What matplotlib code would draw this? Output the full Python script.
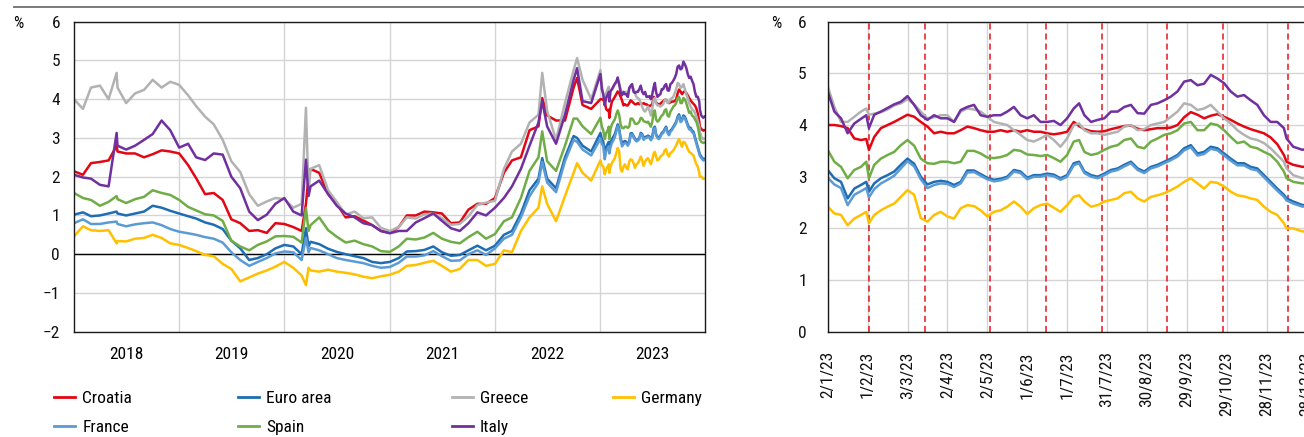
import matplotlib
matplotlib.use("Agg")
import matplotlib.pyplot as plt
from matplotlib.lines import Line2D
from matplotlib import font_manager as fm
import pandas as pd

# ---------------- data ----------------
# long history: monthly readings (1st of month) 2018-01 .. 2022-12
HIST_START, HIST_END = "2018-01-01", "2022-12-01"
# short-lived spikes read separately
SPIKE_DATES = ["2018-05-29", "2020-03-16", "2020-03-25", "2022-06-14", "2022-10-13"]

croatia_hist = [2.14, 2.05, 2.35, 2.38, 2.42, 2.65, 2.6, 2.6, 2.5, 2.58, 2.68, 2.65,
                2.6, 2.3, 1.96, 1.55, 1.58, 1.4, 0.9, 0.8, 0.6, 0.62, 0.55, 0.8,
                0.78, 0.7, 0.6, 2.2, 2.1, 1.55, 1.3, 0.95, 0.98, 0.87, 0.75, 0.6,
                0.55, 0.7, 1.0, 1.0, 1.1, 1.08, 1.05, 0.8, 0.82, 1.15, 1.3, 1.3,
                1.45, 2.1, 2.42, 2.5, 3.2, 3.3, 3.58, 3.45, 3.45, 4.3, 3.85, 3.75]
euro_hist = [1.02, 1.08, 0.98, 1.0, 1.05, 1.05, 1.0, 1.05, 1.1, 1.25, 1.2, 1.12,
             1.05, 0.98, 0.92, 0.82, 0.76, 0.65, 0.35, 0.15, -0.15, -0.1, 0.0, 0.15,
             0.24, 0.2, 0.0, 0.32, 0.26, 0.14, 0.06, 0.0, -0.05, -0.1, -0.2, -0.23,
             -0.2, -0.1, 0.07, 0.08, 0.11, 0.2, 0.05, -0.04, -0.02, 0.1, 0.22, 0.1,
             0.22, 0.5, 0.6, 1.05, 1.65, 1.95, 1.95, 1.7, 2.5, 3.05, 2.8, 2.65]
greece_hist = [4.0, 3.75, 4.3, 4.35, 4.0, 4.3, 3.9, 4.15, 4.24, 4.5, 4.3, 4.45,
               4.37, 4.1, 3.82, 3.55, 3.35, 2.95, 2.4, 2.12, 1.55, 1.25, 1.36, 1.45,
               1.42, 1.2, 1.3, 2.2, 2.3, 1.65, 1.35, 1.02, 1.1, 0.93, 0.95, 0.68,
               0.6, 0.7, 0.95, 0.92, 1.03, 1.05, 0.93, 0.76, 0.78, 0.98, 1.27, 1.33,
               1.38, 2.2, 2.65, 2.85, 3.4, 3.6, 3.7, 2.95, 3.9, 4.75, 4.5, 4.0]
germany_hist = [0.46, 0.72, 0.62, 0.6, 0.62, 0.34, 0.33, 0.4, 0.42, 0.5, 0.42, 0.28,
                0.24, 0.16, 0.08, -0.02, -0.05, -0.25, -0.38, -0.7, -0.6, -0.5, -0.42, -0.32,
                -0.2, -0.35, -0.55, -0.42, -0.45, -0.4, -0.45, -0.48, -0.52, -0.58, -0.62, -0.57,
                -0.53, -0.45, -0.3, -0.28, -0.22, -0.17, -0.3, -0.45, -0.38, -0.15, -0.15, -0.3,
                -0.25, 0.1, 0.05, 0.6, 0.95, 1.2, 1.3, 0.85, 1.5, 2.1, 2.1, 1.9]
france_hist = [0.8, 0.9, 0.78, 0.78, 0.82, 0.78, 0.72, 0.77, 0.8, 0.82, 0.75, 0.65,
               0.58, 0.54, 0.5, 0.44, 0.4, 0.3, 0.05, -0.15, -0.3, -0.2, -0.1, 0.02,
               0.07, 0.05, -0.15, 0.16, 0.1, 0.0, -0.1, -0.15, -0.19, -0.23, -0.3, -0.35,
               -0.33, -0.22, -0.06, -0.06, -0.03, 0.08, -0.05, -0.17, -0.16, 0.0, 0.1, -0.02,
               0.15, 0.4, 0.5, 0.95, 1.5, 1.85, 1.85, 1.6, 2.4, 2.95, 2.7, 2.55]
spain_hist = [1.58, 1.45, 1.4, 1.25, 1.35, 1.42, 1.32, 1.42, 1.48, 1.65, 1.58, 1.53,
              1.4, 1.22, 1.13, 1.03, 1.0, 0.86, 0.35, 0.2, 0.1, 0.24, 0.33, 0.46,
              0.47, 0.45, 0.3, 0.75, 0.95, 0.62, 0.45, 0.3, 0.35, 0.26, 0.2, 0.08,
              0.06, 0.2, 0.4, 0.38, 0.43, 0.55, 0.4, 0.32, 0.28, 0.44, 0.58, 0.4,
              0.52, 0.85, 0.95, 1.45, 2.15, 2.5, 2.4, 2.15, 2.8, 3.5, 3.3, 3.1]
italy_hist = [2.05, 1.98, 1.95, 1.79, 1.75, 2.8, 2.7, 2.8, 2.95, 3.1, 3.45, 3.2,
              2.75, 2.85, 2.5, 2.43, 2.6, 2.57, 2.0, 1.7, 1.1, 0.88, 1.02, 1.3,
              1.45, 1.1, 1.0, 1.75, 1.9, 1.55, 1.25, 1.05, 0.95, 0.8, 0.75, 0.6,
              0.54, 0.6, 0.6, 0.82, 0.93, 1.05, 0.86, 0.67, 0.6, 0.8, 1.08, 1.0,
              1.2, 1.45, 1.75, 2.2, 2.8, 3.4, 3.3, 2.85, 3.6, 4.5, 3.95, 3.9]

croatia_spk = [2.8, 1.3, 2.0, 4.03, 4.55]
euro_spk = [1.1, 0.67, 0.2, 2.48, 3.0]
greece_spk = [4.68, 3.78, 1.6, 4.68, 5.06]
germany_spk = [0.28, -0.8, -0.35, 1.75, 2.35]
france_spk = [0.84, 0.42, 0.05, 2.38, 2.9]
spain_spk = [1.5, 1.19, 0.6, 3.17, 3.5]
italy_spk = [3.13, 2.44, 1.5, 3.95, 4.8]

# 2023 in detail (right panel, also the last year of the left panel)
DATES_23 = ["2023-01-02", "2023-01-07", "2023-01-12", "2023-01-17", "2023-01-22",
            "2023-01-27", "2023-01-31", "2023-02-02", "2023-02-06", "2023-02-11",
            "2023-02-16", "2023-02-21", "2023-02-26", "2023-03-03", "2023-03-08",
            "2023-03-13", "2023-03-18", "2023-03-23", "2023-03-28", "2023-04-02",
            "2023-04-07", "2023-04-12", "2023-04-17", "2023-04-22", "2023-04-27",
            "2023-05-02", "2023-05-07", "2023-05-12", "2023-05-17", "2023-05-22",
            "2023-05-27", "2023-06-01", "2023-06-06", "2023-06-11", "2023-06-16",
            "2023-06-21", "2023-06-26", "2023-07-01", "2023-07-06", "2023-07-10",
            "2023-07-14", "2023-07-19", "2023-07-24", "2023-07-29", "2023-08-03",
            "2023-08-08", "2023-08-13", "2023-08-18", "2023-08-23", "2023-08-28",
            "2023-09-02", "2023-09-07", "2023-09-12", "2023-09-17", "2023-09-22",
            "2023-09-27", "2023-10-02", "2023-10-07", "2023-10-12", "2023-10-17",
            "2023-10-22", "2023-10-27", "2023-11-01", "2023-11-06", "2023-11-11",
            "2023-11-16", "2023-11-21", "2023-11-26", "2023-12-01", "2023-12-06",
            "2023-12-11", "2023-12-13", "2023-12-18", "2023-12-25", "2023-12-29"]

croatia_23 = [4.0, 4.0, 3.98, 3.94, 3.74, 3.71, 3.73, 3.52, 3.77, 3.94,
              4.0, 4.06, 4.13, 4.2, 4.16, 4.06, 3.97, 3.84, 3.87, 3.84,
              3.84, 3.9, 3.97, 3.94, 3.9, 3.87, 3.87, 3.9, 3.87, 3.9,
              3.87, 3.9, 3.87, 3.87, 3.84, 3.82, 3.84, 3.87, 4.06, 3.98,
              3.92, 3.88, 3.87, 3.88, 3.92, 3.95, 3.98, 3.99, 3.93, 3.9,
              3.92, 3.94, 3.94, 3.95, 4.0, 4.15, 4.25, 4.2, 4.13, 4.18,
              4.21, 4.16, 4.1, 4.03, 3.97, 3.92, 3.88, 3.84, 3.76, 3.63,
              3.42, 3.29, 3.23, 3.19, 3.2]
euro_23 = [3.13, 2.97, 2.9, 2.58, 2.77, 2.84, 2.9, 2.71, 2.87, 2.97,
           3.03, 3.1, 3.23, 3.35, 3.25, 3.0, 2.85, 2.9, 2.92, 2.9,
           2.84, 2.9, 3.12, 3.12, 3.05, 2.98, 2.94, 2.96, 3.0, 3.13,
           3.1, 2.98, 3.03, 3.03, 3.06, 3.04, 2.97, 3.03, 3.26, 3.29,
           3.1, 3.03, 3.0, 3.06, 3.13, 3.16, 3.23, 3.29, 3.16, 3.1,
           3.19, 3.23, 3.29, 3.35, 3.42, 3.55, 3.61, 3.45, 3.48, 3.58,
           3.55, 3.45, 3.35, 3.26, 3.26, 3.19, 3.16, 3.03, 2.9, 2.77,
           2.65, 2.58, 2.52, 2.45, 2.46]
greece_23 = [4.75, 4.35, 4.06, 4.06, 4.16, 4.26, 4.32, 4.2, 4.22, 4.25,
             4.3, 4.38, 4.42, 4.5, 4.4, 4.26, 4.13, 4.15, 4.19, 4.19,
             4.06, 4.26, 4.32, 4.3, 4.26, 4.16, 4.06, 4.03, 4.0, 3.9,
             3.81, 3.71, 3.68, 3.74, 3.81, 3.71, 3.58, 3.74, 4.0, 4.03,
             3.9, 3.84, 3.84, 3.81, 3.84, 3.87, 3.97, 4.0, 3.9, 3.92,
             4.0, 4.03, 4.06, 4.16, 4.26, 4.42, 4.39, 4.29, 4.32, 4.39,
             4.26, 4.13, 4.03, 3.9, 3.81, 3.74, 3.71, 3.65, 3.55, 3.42,
             3.29, 3.16, 3.03, 2.97, 2.98]
germany_23 = [2.42, 2.29, 2.26, 2.06, 2.19, 2.26, 2.32, 2.1, 2.26, 2.35,
              2.42, 2.48, 2.61, 2.74, 2.65, 2.2, 2.13, 2.26, 2.32, 2.23,
              2.19, 2.39, 2.45, 2.43, 2.35, 2.23, 2.32, 2.35, 2.42, 2.52,
              2.42, 2.28, 2.39, 2.45, 2.48, 2.4, 2.32, 2.45, 2.61, 2.64,
              2.52, 2.42, 2.45, 2.52, 2.55, 2.58, 2.68, 2.71, 2.58, 2.52,
              2.61, 2.64, 2.68, 2.74, 2.81, 2.9, 2.97, 2.87, 2.77, 2.9,
              2.88, 2.81, 2.71, 2.64, 2.62, 2.58, 2.55, 2.42, 2.32, 2.26,
              2.1, 2.0, 2.0, 1.94, 1.95]
france_23 = [2.98, 2.85, 2.78, 2.45, 2.65, 2.72, 2.78, 2.6, 2.76, 2.87,
             2.94, 3.02, 3.16, 3.3, 3.2, 2.95, 2.78, 2.84, 2.87, 2.86,
             2.8, 2.87, 3.08, 3.09, 3.02, 2.95, 2.91, 2.93, 2.97, 3.1,
             3.07, 2.95, 3.0, 3.0, 3.03, 3.01, 2.94, 3.0, 3.22, 3.26,
             3.07, 3.0, 2.97, 3.03, 3.1, 3.13, 3.2, 3.26, 3.13, 3.07,
             3.16, 3.2, 3.26, 3.32, 3.39, 3.51, 3.57, 3.41, 3.44, 3.54,
             3.51, 3.41, 3.31, 3.22, 3.22, 3.15, 3.12, 2.99, 2.86, 2.73,
             2.61, 2.54, 2.48, 2.42, 2.43]
spain_23 = [3.52, 3.29, 3.19, 2.97, 3.13, 3.19, 3.29, 2.97, 3.23, 3.35,
            3.42, 3.48, 3.61, 3.71, 3.6, 3.35, 3.26, 3.25, 3.29, 3.29,
            3.26, 3.29, 3.5, 3.5, 3.45, 3.37, 3.36, 3.38, 3.42, 3.52,
            3.5, 3.43, 3.42, 3.4, 3.42, 3.36, 3.29, 3.42, 3.68, 3.71,
            3.48, 3.42, 3.45, 3.52, 3.58, 3.61, 3.71, 3.74, 3.58, 3.55,
            3.68, 3.74, 3.81, 3.84, 3.9, 4.03, 4.06, 3.9, 3.9, 4.03,
            4.0, 3.9, 3.77, 3.65, 3.68, 3.58, 3.55, 3.48, 3.42, 3.29,
            3.1, 2.97, 2.9, 2.87, 2.88]
italy_23 = [4.65, 4.26, 4.13, 3.84, 4.03, 4.12, 4.19, 3.94, 4.2, 4.26,
            4.33, 4.4, 4.45, 4.56, 4.39, 4.19, 4.1, 4.19, 4.13, 4.13,
            4.06, 4.29, 4.35, 4.39, 4.19, 4.16, 4.19, 4.19, 4.26, 4.35,
            4.19, 4.13, 4.19, 4.06, 4.06, 4.08, 4.0, 4.13, 4.32, 4.42,
            4.19, 4.06, 4.1, 4.13, 4.26, 4.26, 4.35, 4.39, 4.23, 4.22,
            4.39, 4.42, 4.48, 4.55, 4.65, 4.84, 4.87, 4.77, 4.8, 4.97,
            4.9, 4.81, 4.65, 4.55, 4.58, 4.48, 4.39, 4.19, 4.06, 4.06,
            3.94, 3.74, 3.58, 3.52, 3.55]

# ECB monetary policy meetings (red dashed lines)
ECB_DATES = ["2023-02-02", "2023-03-16", "2023-05-04", "2023-06-15",
             "2023-07-27", "2023-09-14", "2023-10-26", "2023-12-14"]

YEAR_LABELS = ["2018", "2019", "2020", "2021", "2022", "2023"]
DAY_TICKS = ["2/1/23", "1/2/23", "3/3/23", "2/4/23", "2/5/23", "1/6/23", "1/7/23",
             "31/7/23", "30/8/23", "29/9/23", "29/10/23", "28/11/23", "28/12/23"]

# plotting (z-)order = source order
NAMES = ["Croatia", "Euro area", "Greece", "Germany", "France", "Spain", "Italy"]
COLORS = ["#e30613", "#1f6db3", "#b2b2b2", "#ffc000", "#5b9bd5", "#70ad47", "#7030a0"]
HIST = [croatia_hist, euro_hist, greece_hist, germany_hist, france_hist, spain_hist, italy_hist]
SPK = [croatia_spk, euro_spk, greece_spk, germany_spk, france_spk, spain_spk, italy_spk]
Y23 = [croatia_23, euro_23, greece_23, germany_23, france_23, spain_23, italy_23]

# ---------------- style ----------------
# narrow face if we can find one
ttf = fm.fontManager.ttflist
installed = {f.name for f in ttf}
FONT, STRETCH, FS = "Liberation Sans", "normal", 11.0
for cand in ["Liberation Sans Narrow", "Roboto Condensed", "Open Sans Condensed"]:
    if cand in installed:
        FONT, FS = cand, 12.5
        break
else:
    if any(f.name == "DejaVu Sans" and f.stretch == "condensed" for f in ttf):
        FONT, STRETCH, FS = "DejaVu Sans", "condensed", 11.2
plt.rcParams["font.family"] = [FONT, "DejaVu Sans"]
plt.rcParams["font.stretch"] = STRETCH
GRID = "#d4d4d4"

W, H = 1304, 437
fig = plt.figure(figsize=(W / 100, H / 100), dpi=100)

months = pd.date_range(HIST_START, HIST_END, freq="MS")
spk_idx = pd.to_datetime(SPIKE_DATES)
d23 = pd.to_datetime(DATES_23)


def px_axes(left, top, right, bottom):
    return [left / W, 1 - bottom / H, (right - left) / W, (bottom - top) / H]


def style(ax):
    for s in ax.spines.values():
        s.set_color("#1a1a1a")
        s.set_linewidth(1.0)
    ax.tick_params(length=0, labelsize=FS, colors="#111111")
    ax.grid(True, color=GRID, lw=1.0)
    ax.set_axisbelow(True)


# ---------- left panel ----------
ax1 = fig.add_axes(px_axes(74, 21.7, 705.3, 331.7))
style(ax1)
for name, col, h, s, y in zip(NAMES, COLORS, HIST, SPK, Y23):
    ser = pd.concat([pd.Series(h, index=months), pd.Series(s, index=spk_idx),
                     pd.Series(y, index=d23)]).sort_index()
    ax1.plot(ser.index, ser.values, color=col, lw=1.8, solid_joinstyle="round")
ax1.axhline(0, color="black", lw=1.0, zorder=1.5)
ax1.set_xlim(pd.Timestamp("2018-01-01"), pd.Timestamp("2024-01-01"))
ax1.set_ylim(-2, 6)
ax1.set_yticks(range(-2, 7))
year_starts = pd.to_datetime([f"{y}-01-01" for y in YEAR_LABELS[1:]])
mid_years = pd.to_datetime([f"{y}-07-02" for y in YEAR_LABELS])
ax1.set_xticks(year_starts)
ax1.set_xticklabels([])
ax1.set_xticks(mid_years, minor=True)
ax1.set_xticklabels(YEAR_LABELS, minor=True)
ax1.tick_params(axis="x", which="both", length=0, pad=11, labelsize=FS)
ax1.tick_params(axis="y", pad=10)

# ---------- right panel (runs past the page edge) ----------
ax2 = fig.add_axes(px_axes(827.7, 21.7, 1310.5, 331.7))
style(ax2)
tick_dates = pd.to_datetime(DAY_TICKS, format="%d/%m/%y")
for d in pd.to_datetime(ECB_DATES):
    ax2.axvline(d, color="#e8141c", lw=1.1, ls=(0, (4, 2.6)), zorder=1.8)
for name, col, y in zip(NAMES, COLORS, Y23):
    ax2.plot(d23, y, color=col, lw=1.8, solid_joinstyle="round")
ax2.set_xlim(pd.Timestamp("2023-01-02"), pd.Timestamp("2023-12-31"))
ax2.set_ylim(0, 6)
ax2.set_yticks(range(0, 7))
ax2.set_xticks(tick_dates)
ax2.set_xticklabels(DAY_TICKS, rotation=90)
ax2.tick_params(axis="x", pad=14)
ax2.tick_params(axis="y", pad=15)

# unit labels
fig.text(18.5 / W, 1 - 24 / H, "%", fontsize=FS - 1, ha="center", va="center")
fig.text(776 / W, 1 - 24 / H, "%", fontsize=FS - 1, ha="center", va="center")

# top rule
fig.add_artist(Line2D([14 / W, 1], [1 - 6.5 / H, 1 - 6.5 / H], transform=fig.transFigure,
                      color="#7a7a7a", lw=1.4))

# legend: four columns laid out row-wise like the source
handles = {n: Line2D([], [], color=c, lw=2.0) for n, c in zip(NAMES, COLORS)}
columns = [(["Croatia", "France"], 54), (["Euro area", "Spain"], 238.3),
           (["Greece", "Italy"], 451.7), (["Germany"], 613.3)]
for labels, xpx in columns:
    fig.legend([handles[l] for l in labels], labels, loc="upper left",
               bbox_to_anchor=(xpx / W, 1 - 391 / H), frameon=False, fontsize=FS,
               borderpad=0, borderaxespad=0, handlelength=1.22, handletextpad=0.4,
               labelspacing=0.8)

fig.savefig("out.png", dpi=100)
